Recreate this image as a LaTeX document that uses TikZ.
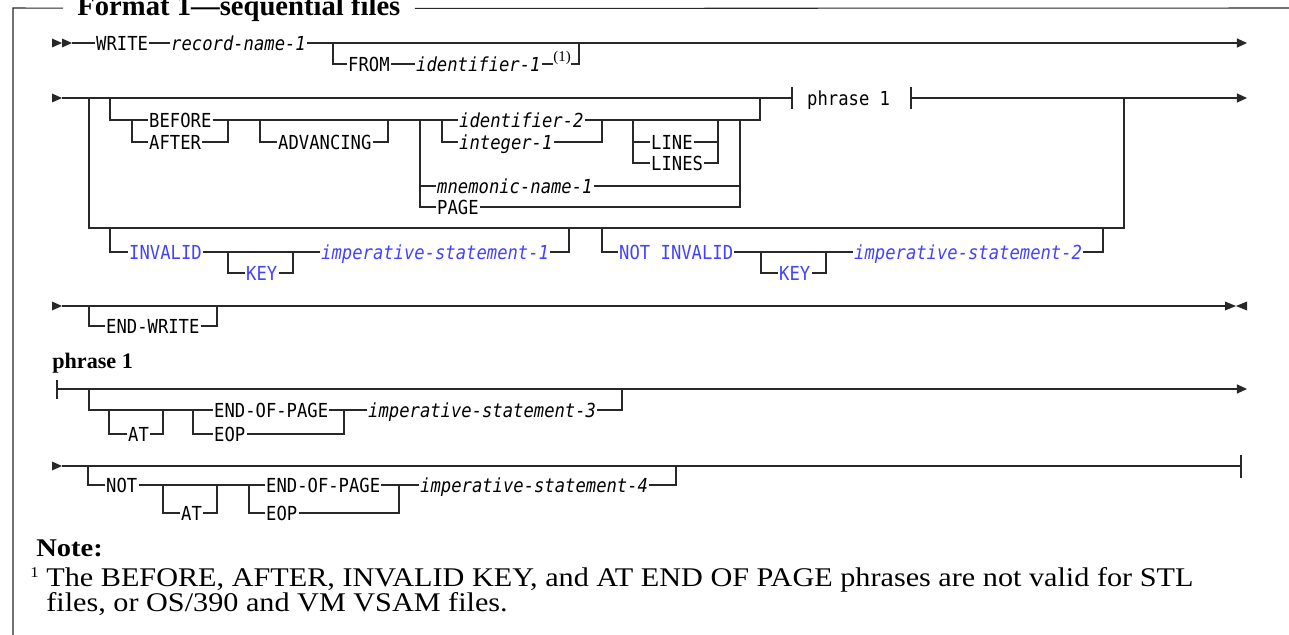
\documentclass[tikz,border=0pt]{standalone}
\usepackage{fontspec}
\setmainfont{Liberation Serif}
\newfontfamily\railfont[FakeStretch=0.89]{DejaVu Sans Mono}
\newfontfamily\notefont[FakeStretch=1.12]{Liberation Serif}
\usetikzlibrary{arrows.meta}

\definecolor{railgray}{RGB}{40,40,40}
\definecolor{ibmblue}{RGB}{66,66,255}

\tikzset{
  rail/.style={draw=railgray, line width=0.6pt},
  ends/.style={-{Triangle[length=5.8pt, width=5.2pt]}},
  kw/.style={font=\fontsize{11}{12}\railfont, inner xsep=0.5pt, inner ysep=0pt,
    text height=8pt, text depth=0pt, anchor=west},
  var/.style={kw, font=\fontsize{11}{12}\railfont\itshape},
  opt/.style={text=ibmblue},
  head/.style={font=\fontsize{12.6}{14}\selectfont\bfseries, inner sep=0pt, anchor=base west},
  notetext/.style={font=\fontsize{15.35}{17}\notefont, inner sep=0pt, anchor=base west},
}

\begin{document}
\begin{tikzpicture}[x=0.02cm, y=-0.02cm]
  \useasboundingbox (0,0) rectangle (1289,635);
  % frame and title (1 unit = 1 pixel of the page)
  \node[font=\fontsize{16.3}{18}\selectfont\bfseries, inner xsep=8pt, anchor=west] (title) at (63,8.5) {Format 1---sequential files};
  \coordinate (fbl) at (13,635); \coordinate (ftl) at (13,8); \coordinate (ftr) at (1289,8);
  \draw[rail] (fbl) -- (ftl) -- (title); \draw[rail] (title) -- (ftr);

  % row 1: WRITE record-name-1 [FROM identifier-1]
  \fill[railgray] (52,38.5) -- (62,43) -- (52,47.5) -- cycle;
  \fill[railgray] (62,38.5) -- (72,43) -- (62,47.5) -- cycle;
  \node[kw] (write) at (95,43) {WRITE};
  \node[var] (rec) at (170,43) {record-name-1};
  \node[kw] (from) at (347,64) {FROM};
  \node[var] (id1) at (415,64) {identifier-1};
  \node[font=\fontsize{8.5}{9}\selectfont, inner sep=0pt, anchor=base west] (fn1) at (553,62) {(1)};
  \coordinate (r1s) at (72,43); \coordinate (r1e) at (1247,43);
  \coordinate (froms) at (333,43); \coordinate (frome) at (579,43);
  \draw[rail, ends] (r1s) -- (write) -- (rec) -- (r1e);
  \draw[rail] (froms) |- (from) -- (id1) -- (id1.east -| fn1.west);
  \draw[rail] (fn1.east |- id1) -| (frome);

  % row 2: advancing phrase / invalid key phrase
  \fill[railgray] (52,93.5) -- (62,98) -- (52,102.5) -- cycle;
  \node[kw] (phrase) at (806,98) {phrase 1};
  \coordinate (r2s) at (62,98); \coordinate (phl) at (792,98); \coordinate (phr) at (911,98);
  \coordinate (r2e) at (1247,98);
  \draw[rail] (r2s) -- (phl); \draw[rail] (792,87) -- (792,109);
  \draw[rail] (911,87) -- (911,109); \draw[rail, ends] (phr) -- (r2e);
  \node[kw] (before) at (148,120) {BEFORE};
  \node[kw] (after) at (148,142) {AFTER};
  \node[kw] (adv) at (277,142) {ADVANCING};
  \node[var] (id2) at (458,120) {identifier-2};
  \node[var] (int1) at (458,142) {integer-1};
  \node[kw] (line) at (650,142) {LINE};
  \node[kw] (lines) at (650,163) {LINES};
  \node[var] (mnem) at (436,186) {mnemonic-name-1};
  \node[kw] (page) at (436,207) {PAGE};
  \coordinate (advs) at (110,98); \coordinate (adve) at (760,98);
  \coordinate (bac) at (740,120);
  \draw[rail] (advs) |- (before) -- (id2) -- (bac) -| (adve);
  \draw[rail] (132,120) |- (after) -- (228,142) -- (228,120);
  \draw[rail] (260,120) |- (adv) -- (388,142) -- (388,120);
  \draw[rail] (442,120) |- (int1) -- (602,142) -- (602,120);
  \draw[rail] (633,120) |- (lines) -- (718,163) -- (718,120);
  \draw[rail] (633,142) -- (line) -- (718,142);
  \draw[rail] (420,120) |- (page) -- (740,207) -- (bac);
  \draw[rail] (420,186) -- (mnem) -- (740,186);

  \node[kw, opt] (inv) at (128,252) {INVALID};
  \node[kw, opt] (key1) at (245,273) {KEY};
  \node[var, opt] (ims1) at (320,252) {imperative-statement-1};
  \node[kw, opt] (ninv) at (618,252) {NOT INVALID};
  \node[kw, opt] (key2) at (778,273) {KEY};
  \node[var, opt] (ims2) at (853,252) {imperative-statement-2};
  \coordinate (invs) at (89,98); \coordinate (inve) at (1124,98);
  \draw[rail] (invs) |- (1124,228) -- (inve);
  \draw[rail] (110,228) |- (inv) -- (ims1) -- (569,252) -- (569,228);
  \draw[rail] (228,252) |- (key1) -- (293,273) -- (293,252);
  \draw[rail] (602,228) |- (ninv) -- (ims2) -- (1103,252) -- (1103,228);
  \draw[rail] (761,252) |- (key2) -- (826,273) -- (826,252);

  % row 3: [END-WRITE]
  \fill[railgray] (52,301.5) -- (62,306) -- (52,310.5) -- cycle;
  \node[kw] (endw) at (105,326) {END-WRITE};
  \coordinate (r3s) at (62,306); \coordinate (r3e) at (1225,306);
  \draw[rail] (r3s) -- (r3e);
  \fill[railgray] (1225,301.5) -- (1236,306) -- (1225,310.5) -- cycle;
  \fill[railgray] (1247,301.5) -- (1236,306) -- (1247,310.5) -- cycle;
  \draw[rail] (89,306) |- (endw) -- (217,326) -- (217,306);

  % phrase 1
  \node[head] (phhead) at (52,368) {phrase 1};
  \coordinate (pas) at (57,389); \coordinate (pae) at (1247,389);
  \draw[rail] (57,380) -- (57,399); \draw[rail, ends] (pas) -- (pae);
  \node[kw] (at1) at (127,434) {AT};
  \node[kw] (eop1) at (213,410) {END-OF-PAGE};
  \node[kw] (eopb1) at (213,434) {EOP};
  \node[var] (ims3) at (367,410) {imperative-statement-3};
  \draw[rail] (89,389) |- (eop1) -- (ims3) -- (622,410) -- (622,389);
  \draw[rail] (109,410) |- (at1) -- (163,434) -- (163,410);
  \draw[rail] (193,410) |- (eopb1) -- (344,434) -- (344,410);

  \fill[railgray] (52,461.5) -- (62,466) -- (52,470.5) -- cycle;
  \coordinate (pbs) at (62,466); \coordinate (pbe) at (1241,466);
  \draw[rail] (pbs) -- (pbe); \draw[rail] (1241,455) -- (1241,478);
  \node[kw] (not) at (105,485) {NOT};
  \node[kw] (at2) at (180,513) {AT};
  \node[kw] (eop2) at (265,485) {END-OF-PAGE};
  \node[kw] (eopb2) at (265,513) {EOP};
  \node[var] (ims4) at (419,485) {imperative-statement-4};
  \draw[rail] (88,466) |- (not) -- (eop2) -- (ims4) -- (676,485) -- (676,466);
  \draw[rail] (163,485) |- (at2) -- (217,513) -- (217,485);
  \draw[rail] (249,485) |- (eopb2) -- (399,513) -- (399,485);

  % note
  \node[notetext, font=\fontsize{14.5}{16}\notefont\bfseries] (note) at (36,556) {Note:};
  \node[notetext, font=\fontsize{8.5}{9}\notefont] (n1) at (30,577) {1};
  \node[notetext] (nl1) at (46,586) {The BEFORE, AFTER, INVALID KEY, and AT END OF PAGE phrases are not valid for STL};
  \node[notetext] (nl2) at (46,611) {files, or OS/390 and VM VSAM files.};
\end{tikzpicture}
\end{document}
